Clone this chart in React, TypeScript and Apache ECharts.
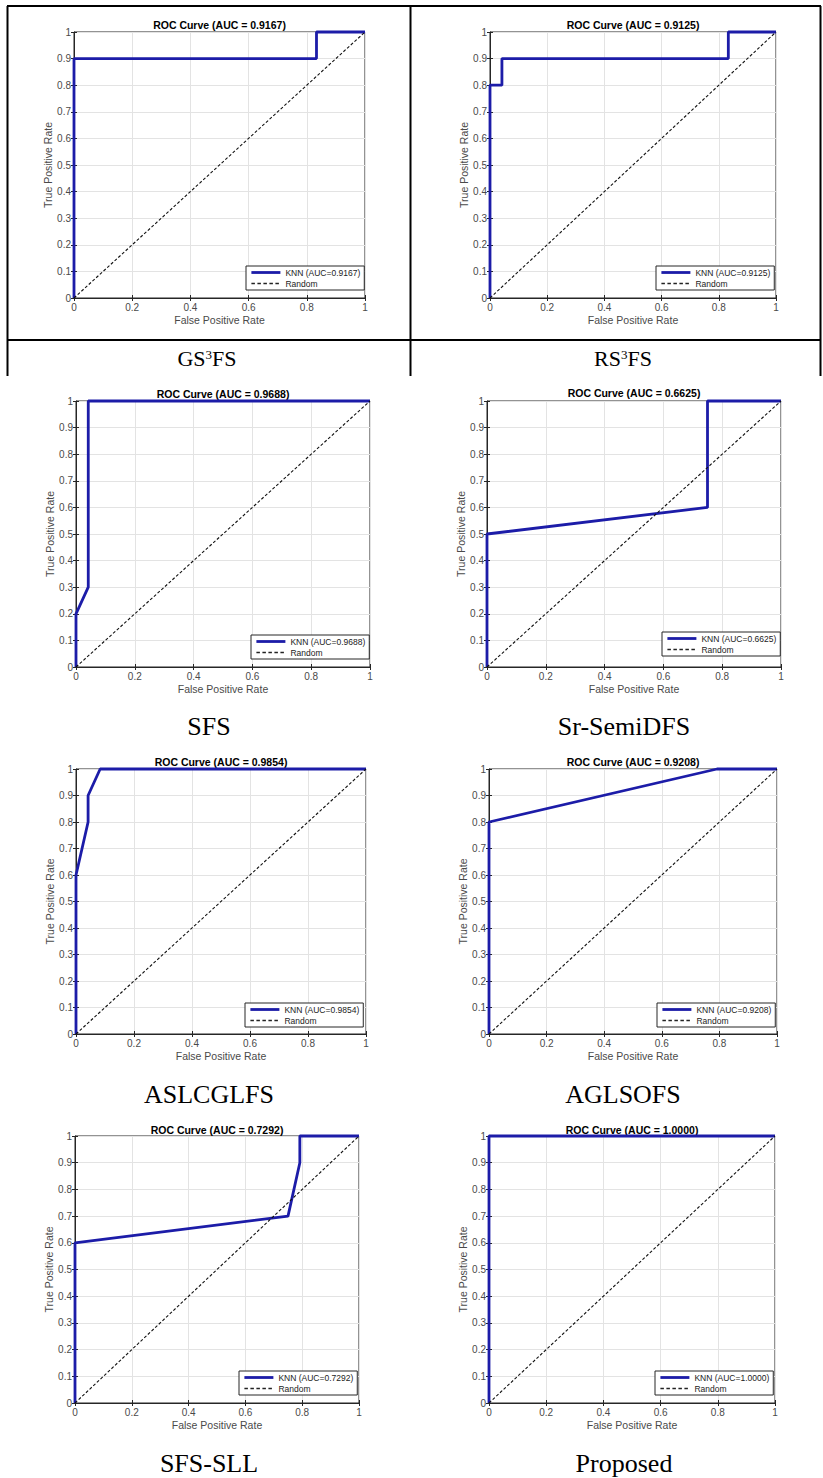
import React, { useEffect, useRef } from 'react';
import * as echarts from 'echarts';

// ---------------- data ----------------
const panelNames = ['GS3FS', 'RS3FS', 'SFS', 'Sr-SemiDFS', 'ASLCGLFS', 'AGLSOFS', 'SFS-SLL', 'Proposed'];
const aucValues = ['0.9167', '0.9125', '0.9688', '0.6625', '0.9854', '0.9208', '0.7292', '1.0000'];

const fprGS3FS = [0, 0, 0.8333, 0.8333, 1];
const tprGS3FS = [0, 0.9, 0.9, 1, 1];
const fprRS3FS = [0, 0, 0.0417, 0.0417, 0.8333, 0.8333, 1];
const tprRS3FS = [0, 0.8, 0.8, 0.9, 0.9, 1, 1];
const fprSFS = [0, 0, 0.0417, 0.0417, 1];
const tprSFS = [0, 0.2, 0.3, 1, 1];
const fprSrSemiDFS = [0, 0, 0.75, 0.75, 1];
const tprSrSemiDFS = [0, 0.5, 0.6, 1, 1];
const fprASLCGLFS = [0, 0, 0.0417, 0.0417, 0.0833, 1];
const tprASLCGLFS = [0, 0.6, 0.8, 0.9, 1, 1];
const fprAGLSOFS = [0, 0, 0.7917, 1];
const tprAGLSOFS = [0, 0.8, 1, 1];
const fprSFSSLL = [0, 0, 0.75, 0.7917, 0.7917, 1];
const tprSFSSLL = [0, 0.6, 0.7, 0.9, 1, 1];
const fprProposed = [0, 0, 1];
const tprProposed = [0, 1, 1];

const fprSets = [fprGS3FS, fprRS3FS, fprSFS, fprSrSemiDFS, fprASLCGLFS, fprAGLSOFS, fprSFSSLL, fprProposed];
const tprSets = [tprGS3FS, tprRS3FS, tprSFS, tprSrSemiDFS, tprASLCGLFS, tprAGLSOFS, tprSFSSLL, tprProposed];

const randomFpr = [0, 1];
const randomTpr = [0, 1];

const xAxisTitle = 'False Positive Rate';
const yAxisTitle = 'True Positive Rate';
const legendRandom = 'Random';

// ---------------- layout ----------------
// plot rect: left, top, right, bottom
const plotRects = [
  [74, 32, 365, 298],
  [490, 32, 776, 298],
  [76, 401, 370, 667],
  [487, 401, 781, 667],
  [76, 769, 366, 1034],
  [489, 769, 777, 1034],
  [75, 1136, 359, 1403],
  [489, 1136, 775, 1403],
];
const legendPos = [
  [246, 266],
  [656, 266],
  [251, 635],
  [662, 632],
  [245, 1003],
  [657, 1003],
  [239, 1371],
  [655, 1371],
];
const titleY = [25, 25, 394, 393, 762, 762, 1130, 1130];
// caption center x, center y, font size
const captionLayout = [
  [207, 357, 22],
  [623, 357, 22],
  [209, 725, 26],
  [624, 725, 26],
  [209, 1093, 26],
  [623, 1093, 26],
  [209, 1462, 26],
  [624, 1462, 26],
];

const SANS = '"Liberation Sans", Arial, Helvetica, sans-serif';
const SERIF = '"Liberation Serif", "Times New Roman", serif';
const AXIS_COLOR = '#262626';
const LABEL_COLOR = '#4a4a4a';
const GRID_COLOR = '#e3e3e3';
const KNN_COLOR = '#1c1ca8';
const KNN_WIDTH = 2.8;
const RANDOM_WIDTH = 1.1;

function captionText(name: string) {
  if (name.indexOf('S3FS') >= 0) {
    const parts = name.split('3');
    return `{m|${parts[0]}}{s|3}{m|${parts[1]}}`;
  }
  return `{m|${name}}`;
}

export default function App() {
  const ref = useRef<HTMLDivElement>(null);

  useEffect(() => {
    if (!ref.current) return;
    const chart = echarts.init(ref.current, undefined, { renderer: 'svg' });

    const grids: any[] = [];
    const xAxes: any[] = [];
    const yAxes: any[] = [];
    const series: any[] = [];
    const legends: any[] = [];
    const graphics: any[] = [];

    panelNames.forEach((name, i) => {
      const [l, t, r, b] = plotRects[i];
      grids.push({
        left: l,
        top: t,
        width: r - l,
        height: b - t,
        show: true,
        borderColor: AXIS_COLOR,
        borderWidth: 1,
        backgroundColor: '#fff',
      });
      xAxes.push({
        type: 'value',
        gridIndex: i,
        min: 0,
        max: 1,
        interval: 0.2,
        position: 'bottom',
        name: xAxisTitle,
        nameLocation: 'middle',
        nameGap: 16,
        nameTextStyle: { color: LABEL_COLOR, fontSize: 10.5, fontFamily: SANS },
        axisLine: { show: true, lineStyle: { color: AXIS_COLOR, width: 1 } },
        axisTick: { show: true, inside: true, length: 3, lineStyle: { color: AXIS_COLOR } },
        axisLabel: { color: LABEL_COLOR, fontSize: 10, fontFamily: SANS, margin: 4 },
        splitLine: { show: true, lineStyle: { color: GRID_COLOR, width: 1 } },
      });
      xAxes.push({
        type: 'value',
        gridIndex: i,
        min: 0,
        max: 1,
        interval: 0.2,
        position: 'top',
        axisLine: { show: false },
        axisTick: { show: true, inside: true, length: 3, lineStyle: { color: AXIS_COLOR } },
        axisLabel: { show: false },
        splitLine: { show: false },
      });
      yAxes.push({
        type: 'value',
        gridIndex: i,
        min: 0,
        max: 1,
        interval: 0.1,
        position: 'left',
        name: yAxisTitle,
        nameLocation: 'middle',
        nameGap: 19,
        nameRotate: 90,
        nameTextStyle: { color: LABEL_COLOR, fontSize: 10.5, fontFamily: SANS },
        axisLine: { show: true, lineStyle: { color: AXIS_COLOR, width: 1 } },
        axisTick: { show: true, inside: true, length: 3, lineStyle: { color: AXIS_COLOR } },
        axisLabel: { color: LABEL_COLOR, fontSize: 10, fontFamily: SANS, margin: 3 },
        splitLine: { show: true, lineStyle: { color: GRID_COLOR, width: 1 } },
      });
      yAxes.push({
        type: 'value',
        gridIndex: i,
        min: 0,
        max: 1,
        interval: 0.1,
        position: 'right',
        axisLine: { show: false },
        axisTick: { show: true, inside: true, length: 3, lineStyle: { color: AXIS_COLOR } },
        axisLabel: { show: false },
        splitLine: { show: false },
      });

      const knnName = `KNN (AUC=${aucValues[i]})`;
      const fpr = fprSets[i];
      const tpr = tprSets[i];
      series.push({
        type: 'line',
        name: knnName,
        xAxisIndex: i * 2,
        yAxisIndex: i * 2,
        data: fpr.map((x, k) => [x, tpr[k]]),
        symbol: 'none',
        clip: false,
        lineStyle: { color: KNN_COLOR, width: KNN_WIDTH },
        itemStyle: { color: KNN_COLOR },
        z: 3,
      });
      series.push({
        type: 'line',
        name: legendRandom,
        xAxisIndex: i * 2,
        yAxisIndex: i * 2,
        data: randomFpr.map((x, k) => [x, randomTpr[k]]),
        symbol: 'none',
        lineStyle: { color: '#111', width: RANDOM_WIDTH, type: [3, 2] },
        itemStyle: { color: '#111' },
        z: 4,
      });

      legends.push({
        left: legendPos[i][0],
        top: legendPos[i][1],
        orient: 'vertical',
        data: [
          { name: knnName, lineStyle: { width: KNN_WIDTH, color: KNN_COLOR } },
          { name: legendRandom, lineStyle: { width: 1.3, color: '#222', type: [3.5, 2.5] } },
        ],
        selectedMode: false,
        backgroundColor: '#fff',
        borderColor: AXIS_COLOR,
        borderWidth: 1,
        borderRadius: 0,
        padding: [1, 4, 1, 4],
        itemGap: 0,
        itemWidth: 29,
        itemHeight: 10,
        itemStyle: { opacity: 0 },
        textStyle: { fontSize: 8.5, fontFamily: SANS, color: '#222', lineHeight: 11 },
      });

      graphics.push({
        type: 'text',
        x: (l + r) / 2,
        y: titleY[i],
        style: {
          text: `ROC Curve (AUC = ${aucValues[i]})`,
          font: `bold 10.5px ${SANS}`,
          fill: '#000',
          align: 'center',
          verticalAlign: 'middle',
        },
      });

      const [cx, cy, fs] = captionLayout[i];
      graphics.push({
        type: 'text',
        x: cx,
        y: cy,
        style: {
          text: captionText(name),
          align: 'center',
          verticalAlign: 'middle',
          rich: {
            m: { fontSize: fs, fontFamily: SERIF, fill: '#000', lineHeight: fs + 2, verticalAlign: 'bottom' },
            s: {
              fontSize: Math.round(fs * 0.6),
              fontFamily: SERIF,
              fill: '#000',
              lineHeight: Math.round(fs * 0.6),
              verticalAlign: 'top',
              padding: [3, 0, 0, 0],
            },
          },
        },
      });
    });

    const tableLines = [
      [7, 6, 821, 6],
      [7, 340, 821, 340],
      [7.5, 6, 7.5, 376],
      [410.5, 6, 410.5, 376],
      [820.5, 6, 820.5, 376],
    ];
    tableLines.forEach(([x1, y1, x2, y2]) => {
      graphics.push({
        type: 'line',
        shape: { x1, y1, x2, y2 },
        style: { stroke: '#000', lineWidth: 2 },
      });
    });

    chart.setOption({
      animation: false,
      backgroundColor: '#fff',
      grid: grids,
      xAxis: xAxes,
      yAxis: yAxes,
      legend: legends,
      series,
      graphic: graphics,
    });

    return () => chart.dispose();
  }, []);

  return (
    <div
      ref={ref}
      style={{ position: 'absolute', left: 0, top: 0, width: 823, height: 1478 }}
    />
  );
}
